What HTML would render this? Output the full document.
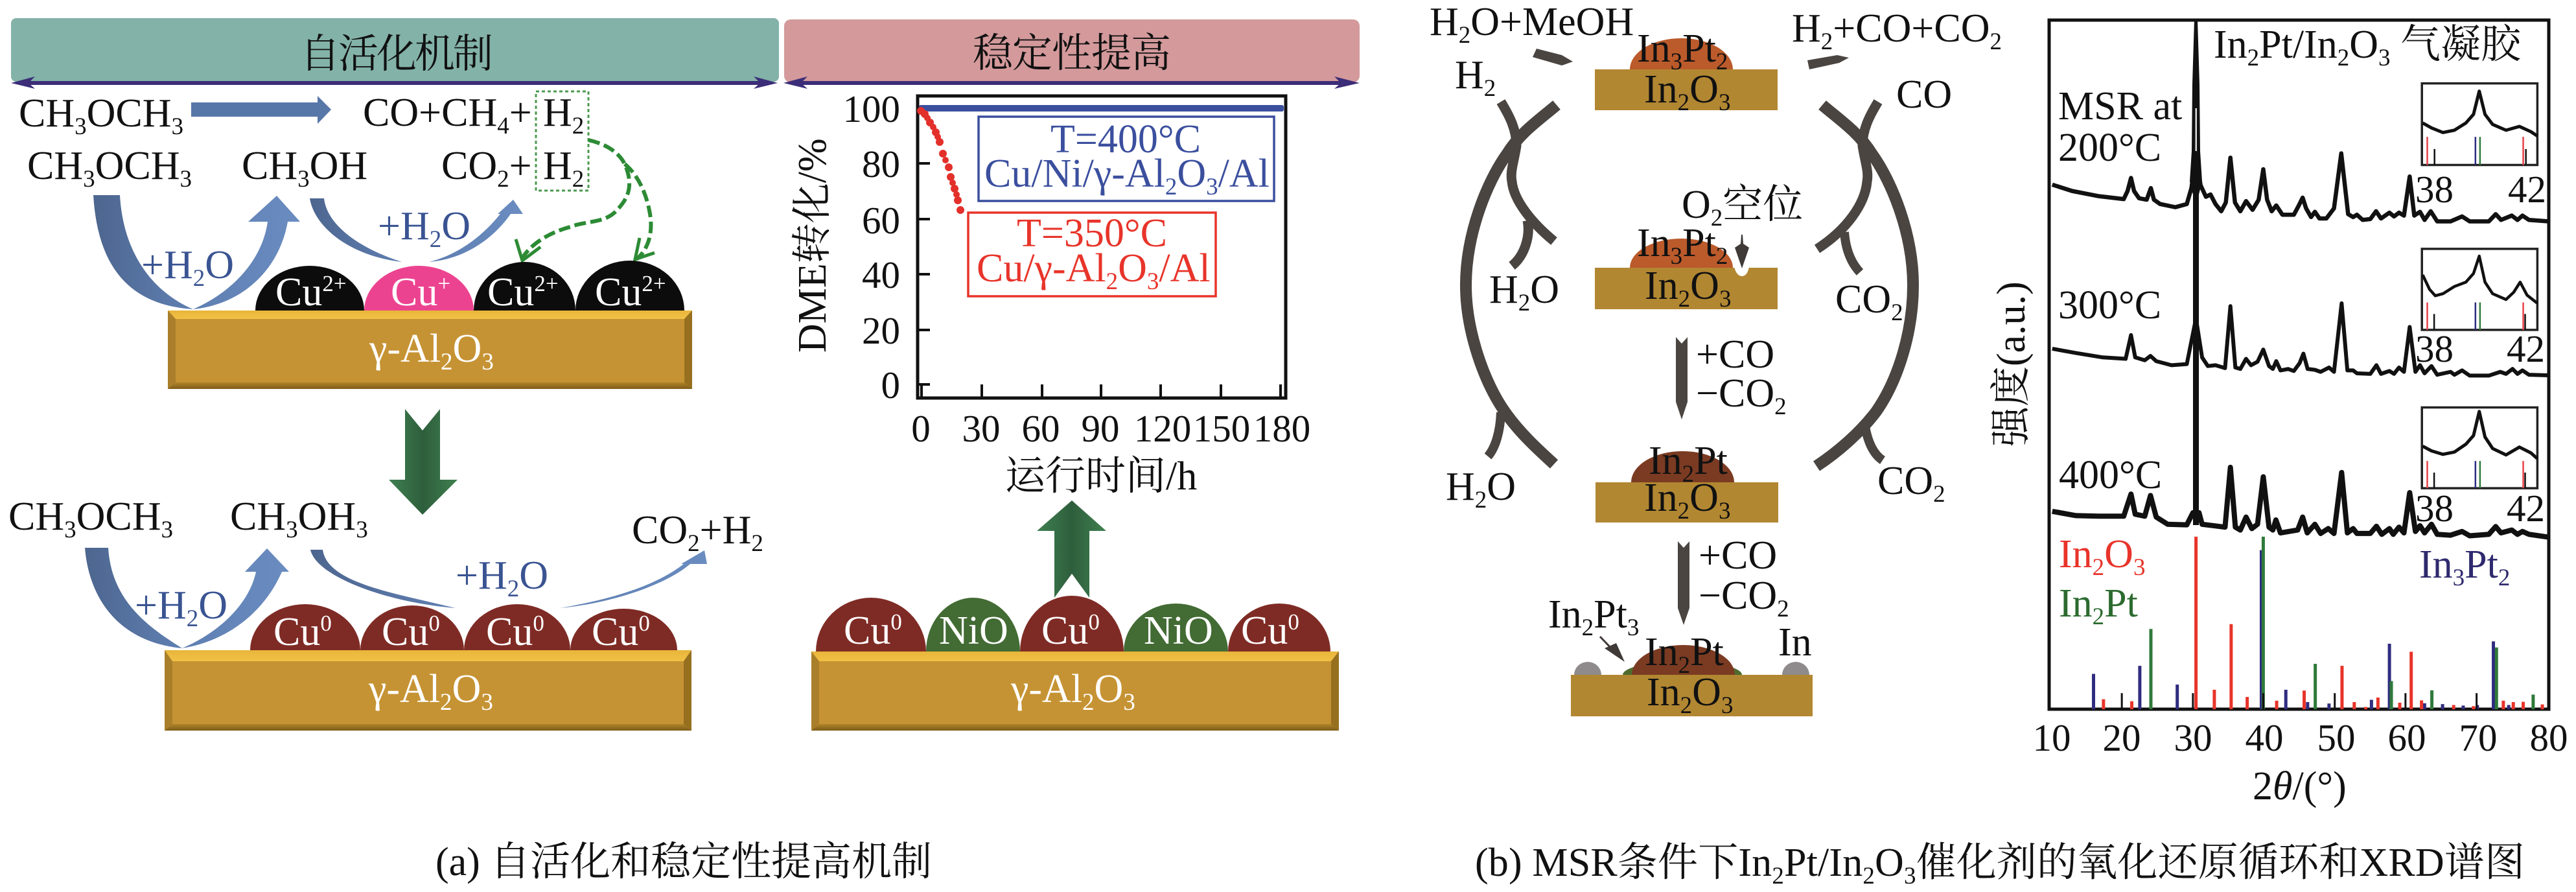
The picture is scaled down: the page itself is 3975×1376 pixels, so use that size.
<!DOCTYPE html>
<html><head><meta charset="utf-8">
<style>
html,body{margin:0;padding:0;background:#fff}
svg{display:block}
text{font-family:"Liberation Serif","Noto Serif CJK SC",serif;font-size:62px;fill:#111}
.s{font-size:37px;baseline-shift:-12px}
.u{font-size:35px;baseline-shift:22px}
.w{fill:#fff}
.b{fill:#3a5492}
.n{fill:#3b4f9e}
.r{fill:#e8342a}
.t{font-size:59px}
.ln{fill:none;stroke:#4a4541;stroke-linecap:butt}
.v{vector-effect:non-scaling-stroke;fill:none}
</style></head><body>
<svg xmlns="http://www.w3.org/2000/svg" width="3975" height="1376" viewBox="0 0 3975 1376">
<defs>
<linearGradient id="bt" x1="0" y1="0" x2="0" y2="1"><stop offset="0" stop-color="#e8b53a"/><stop offset="1" stop-color="#f0c146"/></linearGradient>
<linearGradient id="bb" x1="0" y1="0" x2="0" y2="1"><stop offset="0" stop-color="#b08428"/><stop offset="1" stop-color="#7d5c1a"/></linearGradient>
<linearGradient id="gv" x1="0" y1="0" x2="1" y2="0"><stop offset="0" stop-color="#3f8050"/><stop offset=".5" stop-color="#2e5e3c"/><stop offset="1" stop-color="#3f8050"/></linearGradient>
<linearGradient id="bl" x1="0" y1="0" x2="1" y2="0"><stop offset="0" stop-color="#4d668f"/><stop offset="1" stop-color="#5f7fb2"/></linearGradient>
<linearGradient id="br" x1="0" y1="0" x2="1" y2="0"><stop offset="0" stop-color="#5f7fb2"/><stop offset="1" stop-color="#6a8cc0"/></linearGradient>
</defs>
<rect width="3975" height="1376" fill="#fff"/>

<!-- headers -->
<rect x="17" y="28" width="1185" height="98" rx="8" fill="#83b2a8"/>
<rect x="1210" y="30" width="888" height="97" rx="10" fill="#d3999b"/>
<rect x="30" y="125" width="1155" height="6" fill="#3b2d78"/>
<path d="M17,128 L54,118 L44,128 L54,137Z M1200,128 L1163,118 L1173,128 L1163,137Z" fill="#3b2d78"/>
<rect x="1225" y="125" width="860" height="6" fill="#3b2d78"/>
<path d="M1209,128 L1246,118 L1236,128 L1246,137Z M2098,128 L2059,118 L2069,128 L2059,137Z" fill="#3b2d78"/>
<text x="463" y="104" textLength="298">自活化机制</text>
<text x="1501" y="103" textLength="306">稳定性提高</text>

<!-- top-left reactions -->
<text x="29" y="195">CH<tspan class="s">3</tspan>OCH<tspan class="s">3</tspan></text>
<path d="M295,158 H490 V148 L511,169 L490,191 V180 H295Z" fill="#5877a9"/>
<text x="560" y="194">CO+CH<tspan class="s">4</tspan>+</text>
<text x="838" y="194">H<tspan class="s">2</tspan></text>
<text x="42" y="276">CH<tspan class="s">3</tspan>OCH<tspan class="s">3</tspan></text>
<text x="373" y="276">CH<tspan class="s">3</tspan>OH</text>
<text x="681" y="276">CO<tspan class="s">2</tspan>+</text>
<text x="838" y="276">H<tspan class="s">2</tspan></text>
<rect x="827" y="141" width="81" height="153" fill="none" stroke="#4c9a4f" stroke-width="3" stroke-dasharray="5 4"/>

<!-- blue arrows top -->
<path d="M144,301 L185,301 C190,390 235,450 298,477 C190,470 150,400 144,301Z" fill="url(#bl)"/>
<path d="M298,477 C370,470 430,420 444,342 L463,342 L427,302 L383,342 L413,342 C405,400 360,450 298,477Z" fill="url(#br)"/>
<path d="M478,306 L500,306 C505,350 560,385 620,404 C540,395 485,350 478,306Z" fill="url(#bl)"/>
<path d="M662,404 C715,400 760,370 788,330 L807,330 L792,308 L768,330 L772,330 C740,370 700,395 662,404Z" fill="url(#br)"/>
<text x="218" y="429" class="b">+H<tspan class="s b">2</tspan>O</text>
<text x="583" y="369" class="b">+H<tspan class="s b">2</tspan>O</text>

<!-- green dashed -->
<g fill="none" stroke="#2c8b34" stroke-width="6">
<path d="M908,216 C935,222 955,235 964,253 C978,285 970,305 953,323 C935,345 905,340 880,350 C850,358 820,375 806,398" stroke-dasharray="18 7"/>
<path d="M964,253 C985,270 998,300 1003,330 C1008,360 1000,385 982,400" stroke-dasharray="18 7"/>
<polyline points="796,369 806,402 834,381" stroke-width="5"/>
<polyline points="987,367 980,400 1010,390" stroke-width="5"/>
</g>

<!-- domes top -->
<path d="M394,479 A84,69 0 0 1 562,479Z" fill="#0c0c0c"/>
<path d="M562,479 A84.5,69 0 0 1 731,479Z" fill="#ec4390"/>
<path d="M731,479 A78.5,75 0 0 1 888,479Z" fill="#0c0c0c"/>
<path d="M888,479 A84,77 0 0 1 1056,479Z" fill="#0c0c0c"/>
<text x="425" y="471" class="w">Cu<tspan class="u w">2+</tspan></text>
<text x="603" y="471" class="w">Cu<tspan class="u w">+</tspan></text>
<text x="752" y="471" class="w">Cu<tspan class="u w">2+</tspan></text>
<text x="918" y="471" class="w">Cu<tspan class="u w">2+</tspan></text>

<!-- slab 1 -->
<rect x="259" y="479" width="809" height="121" fill="#c69334"/>
<polygon points="259,479 1068,479 1056,492 271,492" fill="url(#bt)"/>
<polygon points="259,600 1068,600 1056,590 271,590" fill="url(#bb)"/>
<polygon points="259,479 271,492 271,590 259,600" fill="#a97f2b"/>
<polygon points="1068,479 1056,492 1056,590 1068,600" fill="#96701f"/>
<text x="570" y="558" class="w">γ-Al<tspan class="s w">2</tspan>O<tspan class="s w">3</tspan></text>

<!-- down arrow -->
<path d="M625,631 L652,664 L679,631 L679,740 L706,740 L652,794 L600,740 L625,740Z" fill="url(#gv)"/>

<!-- bottom-left -->
<text x="13" y="817">CH<tspan class="s">3</tspan>OCH<tspan class="s">3</tspan></text>
<text x="355" y="817">CH<tspan class="s">3</tspan>OH<tspan class="s">3</tspan></text>
<text x="975" y="838">CO<tspan class="s">2</tspan>+H<tspan class="s">2</tspan></text>
<path d="M131,845 L167,845 C172,925 225,965 281,1000 C180,990 137,920 131,845Z" fill="url(#bl)"/>
<path d="M281,1000 C345,990 405,950 435,882 L446,882 L412,846 L378,882 L395,882 C385,930 340,975 281,1000Z" fill="url(#br)"/>
<path d="M479,848 L498,848 C505,900 610,915 703,938 C600,930 488,890 479,848Z" fill="url(#bl)"/>
<path d="M864,938 C950,930 1030,900 1065,870 L1091,870 L1087,849 L1051,870 L1055,870 C1010,905 940,925 864,938Z" fill="url(#br)"/>
<text x="208" y="954" class="b">+H<tspan class="s b">2</tspan>O</text>
<text x="703" y="908" class="b">+H<tspan class="s b">2</tspan>O</text>

<path d="M386,1003 A85,71 0 0 1 556,1003Z" fill="#7f2b25"/>
<path d="M556,1003 A80,69 0 0 1 716,1003Z" fill="#7f2b25"/>
<path d="M716,1003 A82,71 0 0 1 880,1003Z" fill="#7f2b25"/>
<path d="M880,1003 A82.5,64 0 0 1 1045,1003Z" fill="#7f2b25"/>
<text x="422" y="995" class="w">Cu<tspan class="u w">0</tspan></text>
<text x="589" y="995" class="w">Cu<tspan class="u w">0</tspan></text>
<text x="750" y="995" class="w">Cu<tspan class="u w">0</tspan></text>
<text x="913" y="995" class="w">Cu<tspan class="u w">0</tspan></text>

<rect x="254" y="1003" width="813" height="124" fill="#c69334"/>
<polygon points="254,1003 1067,1003 1055,1020 266,1020" fill="url(#bt)"/>
<polygon points="254,1127 1067,1127 1055,1117 266,1117" fill="url(#bb)"/>
<polygon points="254,1003 266,1020 266,1117 254,1127" fill="#a97f2b"/>
<polygon points="1067,1003 1055,1020 1055,1117 1067,1127" fill="#96701f"/>
<text x="569" y="1083" class="w">γ-Al<tspan class="s w">2</tspan>O<tspan class="s w">3</tspan></text>

<!-- bottom-middle -->
<path d="M1654,772 L1707,819 L1681,819 L1681,922 L1654,885 L1627,922 L1627,819 L1600,819Z" fill="url(#gv)"/>
<path d="M1259,1005 A85,83 0 0 1 1429,1005Z" fill="#7f2b25"/>
<path d="M1429,1005 A72.5,83 0 0 1 1574,1005Z" fill="#436b34"/>
<path d="M1734,1005 A80.5,74 0 0 1 1895,1005Z" fill="#436b34"/>
<path d="M1574,1005 A80,86 0 0 1 1734,1005Z" fill="#7f2b25"/>
<path d="M1895,1005 A79,74 0 0 1 2053,1005Z" fill="#7f2b25"/>
<text x="1302" y="993" class="w">Cu<tspan class="u w">0</tspan></text>
<text x="1449" y="993" class="w">NiO</text>
<text x="1607" y="993" class="w">Cu<tspan class="u w">0</tspan></text>
<text x="1765" y="993" class="w">NiO</text>
<text x="1915" y="993" class="w">Cu<tspan class="u w">0</tspan></text>
<rect x="1252" y="1005" width="814" height="122" fill="#c69334"/>
<polygon points="1252,1005 2066,1005 2054,1020 1264,1020" fill="url(#bt)"/>
<polygon points="1252,1127 2066,1127 2054,1117 1264,1117" fill="url(#bb)"/>
<polygon points="1252,1005 1264,1020 1264,1117 1252,1127" fill="#a97f2b"/>
<polygon points="2066,1005 2054,1020 2054,1117 2066,1127" fill="#96701f"/>
<text x="1560" y="1083" class="w">γ-Al<tspan class="s w">2</tspan>O<tspan class="s w">3</tspan></text>

<!-- DME plot -->
<rect x="1416" y="148" width="568" height="466" fill="#fff" stroke="#111" stroke-width="5"/>
<g stroke="#111" stroke-width="4">
<path d="M1416,167 H1435 M1416,252 H1435 M1416,338 H1435 M1416,423 H1435 M1416,509 H1435 M1416,593 H1435"/>
<path d="M1422,593 V614 M1515,593 V614 M1608,593 V614 M1699,593 V614 M1791,593 V614 M1884,593 V614 M1976,593 V614"/>
</g>
<rect x="1418" y="162" width="563" height="10" rx="3" fill="#3b4f9e"/>
<g fill="#e3302b">
<circle cx="1421" cy="171" r="6"/><circle cx="1427" cy="176" r="6"/><circle cx="1435" cy="189" r="6"/><circle cx="1444" cy="204" r="6"/><circle cx="1450" cy="219" r="6"/><circle cx="1455" cy="237" r="6"/><circle cx="1464" cy="258" r="6"/><circle cx="1467" cy="273" r="6"/><circle cx="1473" cy="291" r="6"/><circle cx="1478" cy="309" r="6"/><circle cx="1482" cy="324" r="6"/>
<circle cx="1431" cy="182" r="5"/><circle cx="1440" cy="196" r="5"/><circle cx="1447" cy="211" r="5"/><circle cx="1459" cy="247" r="5"/><circle cx="1470" cy="282" r="5"/><circle cx="1476" cy="300" r="5"/>
</g>
<text x="1389" y="188" class="t" text-anchor="end">100</text>
<text x="1389" y="273" class="t" text-anchor="end">80</text>
<text x="1389" y="360" class="t" text-anchor="end">60</text>
<text x="1389" y="444" class="t" text-anchor="end">40</text>
<text x="1389" y="530" class="t" text-anchor="end">20</text>
<text x="1389" y="614" class="t" text-anchor="end">0</text>
<text x="1421" y="681" class="t" text-anchor="middle">0</text>
<text x="1514" y="681" class="t" text-anchor="middle">30</text>
<text x="1606" y="681" class="t" text-anchor="middle">60</text>
<text x="1698" y="681" class="t" text-anchor="middle">90</text>
<text x="1794" y="681" class="t" text-anchor="middle">120</text>
<text x="1885" y="681" class="t" text-anchor="middle">150</text>
<text x="1978" y="681" class="t" text-anchor="middle">180</text>
<text x="1551" y="755">运行时间/h</text>
<text transform="translate(1274,544) rotate(-90)">DME转化/%</text>
<rect x="1510" y="180" width="456" height="130" fill="#fff" stroke="#3b4f9e" stroke-width="3.5"/>
<text x="1737" y="235" text-anchor="middle" class="n">T=400°C</text>
<text x="1519" y="288" class="n">Cu/Ni/γ-Al<tspan class="s n">2</tspan>O<tspan class="s n">3</tspan>/Al</text>
<rect x="1494" y="328" width="382" height="129" fill="#fff" stroke="#e8342a" stroke-width="3.5"/>
<text x="1685" y="380" text-anchor="middle" class="r">T=350°C</text>
<text x="1507" y="434" class="r">Cu/γ-Al<tspan class="s r">2</tspan>O<tspan class="s r">3</tspan>/Al</text>

<text x="672" y="1350" textLength="766">(a) 自活化和稳定性提高机制</text>

<!-- cycle arcs -->
<g fill="none" stroke="#4a4541">
<path d="M2402,162 C2375,185 2345,205 2325,238 C2295,280 2262,360 2262,440 C2262,510 2290,590 2322,635 C2345,668 2375,695 2398,716" stroke-width="18"/>
<path d="M2316,157 C2330,180 2340,200 2340,225 C2336,250 2330,265 2333,280 C2336,310 2365,345 2398,372" stroke-width="15"/>
<path d="M2357,340 C2362,365 2352,395 2333,410" stroke-width="15"/>
<path d="M2316,636 C2315,665 2308,690 2296,704" stroke-width="14"/>
<path d="M2812,162 C2839,185 2869,205 2889,238 C2919,280 2952,360 2952,440 C2952,510 2930,585 2895,635 C2870,668 2835,698 2803,719" stroke-width="18"/>
<path d="M2898,157 C2884,180 2874,200 2874,225 C2878,250 2884,265 2881,280 C2878,315 2849,355 2804,384" stroke-width="15"/>
<path d="M2846,358 C2848,385 2856,405 2870,420" stroke-width="14"/>
<path d="M2878,658 C2882,680 2890,700 2905,710" stroke-width="14"/>
</g>
<polygon points="2365,88 2371,75 2410,85 2427,95 2410,101" fill="#4a4541"/>
<polygon points="2792,107 2789,93 2835,85 2853,89 2838,97" fill="#4a4541"/>

<!-- cycle states -->
<path d="M2515,107 A79.5,48 0 0 1 2674,107Z" fill="#bb5a2b"/>
<rect x="2461" y="107" width="282" height="63" fill="#b28732"/>
<text x="2526" y="95">In<tspan class="s">3</tspan>Pt<tspan class="s">2</tspan></text>
<text x="2537" y="158">In<tspan class="s">2</tspan>O<tspan class="s">3</tspan></text>

<path d="M2515,413 A79.5,45 0 0 1 2674,413Z" fill="#bb5a2b"/>
<rect x="2461" y="413" width="282" height="64" fill="#b28732"/>
<path d="M2676,412 Q2680,426 2688,426 Q2696,426 2699,412Z" fill="#fff"/>
<text x="2526" y="395">In<tspan class="s">3</tspan>Pt<tspan class="s">2</tspan></text>
<text x="2538" y="461">In<tspan class="s">2</tspan>O<tspan class="s">3</tspan></text>
<polygon points="2687,362 2689,362 2690,376 2699,382 2688,414 2677,382 2686,376" fill="#3f3a37"/>

<path d="M2517,744 A79.5,48 0 0 1 2676,744Z" fill="#7b3b22"/>
<rect x="2462" y="744" width="282" height="62" fill="#b28732"/>
<text x="2544" y="731">In<tspan class="s">2</tspan>Pt</text>
<text x="2537" y="788">In<tspan class="s">2</tspan>O<tspan class="s">3</tspan></text>

<path d="M2504,1041 A92,21 0 0 1 2688,1041Z" fill="#4f6c2e"/>
<path d="M2518,1041 A79.5,46 0 0 1 2677,1041Z" fill="#7b3b22"/>
<path d="M2429,1041 A21,20 0 0 1 2471,1041Z" fill="#8f8b8c"/>
<path d="M2750,1041 A21,20 0 0 1 2792,1041Z" fill="#8f8b8c"/>
<rect x="2424" y="1041" width="373" height="64" fill="#b28732"/>
<text x="2538" y="1026">In<tspan class="s">2</tspan>Pt</text>
<text x="2541" y="1088">In<tspan class="s">2</tspan>O<tspan class="s">3</tspan></text>
<path d="M2469,982 L2490,1004" stroke="#3f3a37" stroke-width="3" fill="none"/>
<polygon points="2507,1021 2476,1000 2494,992" fill="#3f3a37"/>

<path d="M2586,520 L2595,530 L2604,520 V620 L2595,647 L2586,620Z" fill="#4a4541"/>
<path d="M2589,835 L2598,845 L2607,835 V938 L2598,964 L2589,938Z" fill="#4a4541"/>

<!-- cycle labels -->
<text x="2206" y="54">H<tspan class="s">2</tspan>O+MeOH</text>
<text x="2765" y="64">H<tspan class="s">2</tspan>+CO+CO<tspan class="s">2</tspan></text>
<text x="2245" y="136">H<tspan class="s">2</tspan></text>
<text x="2926" y="166">CO</text>
<text x="2595" y="336">O<tspan class="s">2</tspan>空位</text>
<text x="2298" y="467">H<tspan class="s">2</tspan>O</text>
<text x="2832" y="482">CO<tspan class="s">2</tspan></text>
<text x="2617" y="567">+CO</text>
<text x="2617" y="627">−CO<tspan class="s">2</tspan></text>
<text x="2231" y="771">H<tspan class="s">2</tspan>O</text>
<text x="2897" y="762">CO<tspan class="s">2</tspan></text>
<text x="2621" y="877">+CO</text>
<text x="2621" y="939">−CO<tspan class="s">2</tspan></text>
<text x="2389" y="968">In<tspan class="s">2</tspan>Pt<tspan class="s">3</tspan></text>
<text x="2744" y="1011">In</text>

<text x="2276" y="1351" textLength="1620">(b) MSR条件下In<tspan class="s">2</tspan>Pt/In<tspan class="s">2</tspan>O<tspan class="s">3</tspan>催化剂的氧化还原循环和XRD谱图</text>

<!-- XRD -->
<rect x="3162" y="31" width="771" height="1063" fill="#fff" stroke="#111" stroke-width="5"/>

<!-- XRD traces: zoom-6 coords -->
<g transform="translate(3050,0) scale(.5899,.4464)">
<polyline class="v" stroke="#111" stroke-width="6.5" stroke-linejoin="round" points="198,638 250,660 320,678 385,688 395,660 404,615 412,660 425,685 445,690 456,650 464,690 480,705 520,716 550,705 562,650 574,540 586,640 600,680 612,672 625,705 640,730 652,700 664,545 676,700 690,730 705,695 722,725 738,690 750,585 760,690 772,730 784,710 800,742 830,742 843,710 853,683 862,720 875,750 885,732 897,755 915,755 935,720 954,530 972,740 985,750 995,742 1010,760 1030,757 1045,730 1058,755 1080,735 1092,748 1105,735 1118,745 1133,610 1145,745 1160,732 1172,760 1188,730 1205,765 1240,765 1270,748 1290,765 1340,765 1358,740 1372,760 1400,745 1415,760 1428,745 1445,760 1497,765"/>
<polyline class="v" stroke="#111" stroke-width="6" stroke-linejoin="round" points="198,1205 260,1220 330,1235 390,1240 404,1158 415,1235 440,1245 455,1230 470,1248 510,1262 550,1258 574,1100 590,1235 605,1265 625,1262 650,1272 664,1058 677,1270 690,1275 705,1240 718,1262 735,1250 750,1208 765,1265 775,1275 784,1248 795,1280 815,1275 830,1282 845,1255 855,1222 866,1275 885,1278 900,1285 922,1270 935,1285 955,1048 970,1280 985,1280 995,1290 1030,1292 1046,1262 1058,1292 1080,1282 1092,1292 1105,1270 1118,1285 1133,1130 1148,1285 1160,1262 1172,1290 1190,1265 1205,1295 1240,1285 1250,1295 1270,1280 1290,1298 1340,1298 1370,1285 1385,1292 1402,1275 1415,1292 1428,1280 1445,1295 1497,1297"/>
<!-- insets -->
<rect class="v" x="1165" y="288" width="302" height="282" stroke="#222" stroke-width="3.5"/>
<rect class="v" x="1165" y="860" width="302" height="280" stroke="#222" stroke-width="3.5"/>
<rect class="v" x="1165" y="1408" width="302" height="279" stroke="#222" stroke-width="3.5"/>
<polyline class="v" stroke="#111" stroke-width="5" stroke-linejoin="round" points="1167,425 1190,442 1220,458 1250,450 1280,425 1300,395 1315,315 1330,395 1350,430 1385,450 1420,437 1450,455 1467,470"/>
<polyline class="v" stroke="#111" stroke-width="4.5" stroke-linejoin="round" points="1167,950 1185,1000 1200,1022 1220,1015 1250,990 1280,975 1300,945 1315,885 1330,975 1350,1015 1385,1035 1405,1010 1422,975 1440,1020 1467,1048"/>
<polyline class="v" stroke="#111" stroke-width="5" stroke-linejoin="round" points="1167,1542 1190,1558 1220,1570 1250,1562 1280,1535 1300,1505 1315,1422 1330,1510 1350,1550 1385,1572 1420,1545 1450,1565 1467,1585"/>
<g stroke-width="2.5">
<path class="v" stroke="#e8424a" d="M1179,473 V570 M1430,473 V570 M1179,1045 V1140 M1430,1045 V1140 M1179,1593 V1687 M1430,1593 V1687"/>
<path class="v" stroke="#2f2c80" d="M1305,473 V570 M1305,1045 V1140 M1305,1593 V1687"/>
<path class="v" stroke="#2f7a3a" d="M1317,473 V570 M1317,1045 V1140 M1317,1593 V1687"/>
<path class="v" stroke="#111" d="M1198,515 V570 M1437,515 V570 M1197,1085 V1140 M1435,1085 V1140 M1197,1633 V1687 M1435,1633 V1687"/>
</g>
</g>
<!-- 400C trace: zoom-7 coords -->
<g transform="translate(3050,680) scale(.5899,.4439)">
<polyline class="v" stroke="#111" stroke-width="8" stroke-linejoin="round" points="198,245 260,260 320,262 385,262 404,185 415,255 440,262 455,190 470,265 500,290 550,292 566,250 582,250 590,290 620,295 650,300 664,92 677,300 690,310 705,265 720,305 735,290 750,125 765,300 775,310 783,275 795,320 840,310 853,265 865,320 885,290 900,322 920,305 935,322 955,110 970,320 985,305 995,322 1030,322 1046,297 1060,325 1080,305 1090,325 1105,300 1118,320 1133,180 1148,315 1160,295 1172,320 1190,290 1205,325 1240,328 1270,315 1290,330 1340,325 1358,298 1372,320 1400,310 1415,325 1428,315 1445,325 1497,335"/>
<!-- sticks -->
<g stroke-width="5">
<path class="v" stroke="#2f2c80" d="M306,933 V810 M427,933 V782 M525,933 V847 M745,933 V380 M809,933 V865 M866,933 V908 M922,933 V913 M1033,933 V900 M1080,933 V705 M1172,933 V912 M1219,933 V915 M1273,933 V920 M1310,933 V918 M1352,933 V697 M1392,933 V918"/>
<path class="v" stroke="#2f7a3a" d="M456,933 V654 M750,933 V333 M886,933 V775 M1085,933 V835 M1191,933 V867 M1360,933 V718 M1456,933 V882"/>
<path class="v" stroke="#e8342a" d="M332,933 V898 M406,933 V905 M574,933 V333 M622,933 V865 M666,933 V637 M708,933 V890 M785,933 V903 M857,933 V868 M956,933 V782 M988,933 V908 M1018,933 V925 M1050,933 V892 M1107,933 V910 M1137,933 V733 M1164,933 V902 M1248,933 V918 M1300,933 V922 M1378,933 V903 M1404,933 V908 M1430,933 V907 M1480,933 V916"/>
<path class="v" stroke="#111" stroke-width="3" d="M380,933 V877 M566,933 V877 M750,933 V877 M937,933 V877 M1122,933 V877 M1308,933 V877"/>
</g>
</g>
<!-- main peak -->
<polygon points="3386,31 3391,31 3394,130 3395,233 3398,280 3393,300 3393,810 3384,810 3384,300 3379,280 3382,233 3383,130" fill="#111"/>
<rect x="3387.5" y="167" width="2.5" height="66" fill="#ddd"/>

<text x="3416" y="89">In<tspan class="s">2</tspan>Pt/In<tspan class="s">2</tspan>O<tspan class="s">3</tspan> 气凝胶</text>
<text x="3176" y="184">MSR at</text>
<text x="3176" y="248">200°C</text>
<text x="3176" y="491">300°C</text>
<text x="3177" y="753">400°C</text>
<text x="3727" y="312" class="t">38</text><text x="3870" y="312" class="t">42</text>
<text x="3727" y="558" class="t">38</text><text x="3868" y="558" class="t">42</text>
<text x="3727" y="804" class="t">38</text><text x="3868" y="804" class="t">42</text>
<text x="3177" y="875" class="r">In<tspan class="s r">2</tspan>O<tspan class="s r">3</tspan></text>
<text x="3177" y="951" style="fill:#2c6b2f">In<tspan class="s" style="fill:#2c6b2f">2</tspan>Pt</text>
<text x="3733" y="891" style="fill:#2f2a6e">In<tspan class="s" style="fill:#2f2a6e">3</tspan>Pt<tspan class="s" style="fill:#2f2a6e">2</tspan></text>
<text x="3166" y="1158" class="t" text-anchor="middle">10</text>
<text x="3274" y="1158" class="t" text-anchor="middle">20</text>
<text x="3384" y="1158" class="t" text-anchor="middle">30</text>
<text x="3494" y="1158" class="t" text-anchor="middle">40</text>
<text x="3605" y="1158" class="t" text-anchor="middle">50</text>
<text x="3714" y="1158" class="t" text-anchor="middle">60</text>
<text x="3824" y="1158" class="t" text-anchor="middle">70</text>
<text x="3933" y="1158" class="t" text-anchor="middle">80</text>
<text x="3476" y="1233">2<tspan font-style="italic">θ</tspan>/(°)</text>
<text transform="translate(3124,689) rotate(-90)">强度(a.u.)</text>
</svg>
</body></html>
